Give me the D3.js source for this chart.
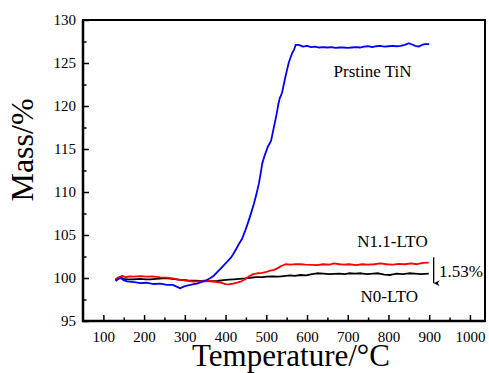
<!DOCTYPE html>
<html>
<head>
<meta charset="utf-8">
<script src="https://cdn.jsdelivr.net/npm/d3@7"></script>
<style>
html,body{margin:0;padding:0;background:#fff;}
svg{display:block;}
svg text{font-family:"Liberation Serif","Times New Roman",serif !important;}
</style>
</head>
<body>
<svg id="chart" width="489" height="373"></svg>
<script>
// ---- data ----
const xTicks = [100,200,300,400,500,600,700,800,900,1000];
const yTicks = [95,100,105,110,115,120,125,130];

const tinTemp = [130,136,142,150,158,170,180,191,205,224,240,256,270,280,289,297,305,314,322,330,338,346,355,363,372,380,388,396,404,412,418,424,432,441,449,457,463,470,476,482,486,490,495,501,504,508,512,515,519,523,527,530,533,536,539,543,547,551,555,560,564,568,572,580,590,600,610,620,630,640,650,660,670,680,690,700,710,720,730,740,750,760,770,780,790,800,810,820,830,840,850,858,866,874,882,890,900];
const tinMass = [99.65,99.85,100.0,99.75,99.6,99.55,99.5,99.4,99.45,99.3,99.35,99.2,99.2,99.0,98.8,99.0,99.1,99.2,99.3,99.35,99.5,99.6,99.8,100.0,100.3,100.7,101.1,101.5,101.9,102.3,102.7,103.2,103.9,104.6,105.6,106.7,107.6,108.7,109.8,111.0,112.1,113.3,114.1,114.9,115.3,115.6,116.0,116.7,117.6,118.5,119.5,120.3,120.9,121.2,121.6,122.5,123.4,124.2,125.0,125.7,126.2,126.5,127.1,127.1,126.9,127.0,126.85,126.9,126.8,126.85,126.8,126.85,126.75,126.8,126.8,126.75,126.8,126.85,126.8,126.9,126.95,126.85,126.95,127.0,126.9,126.95,127.0,126.95,127.0,127.1,127.3,127.15,127.0,126.9,127.1,127.2,127.2];

const n11Temp = [130,136,142,146,155,165,175,191,205,220,240,255,270,281,295,310,322,335,350,363,375,388,400,408,418,428,437,448,458,468,478,490,500,510,519,528,537,547,560,572,584,596,610,625,640,655,666,680,690,703,720,735,750,765,780,795,810,825,840,855,870,885,899];
const n11Mass = [99.85,100.05,100.15,100.25,100.1,100.2,100.15,100.23,100.15,100.2,100.08,100.05,99.95,99.85,99.75,99.65,99.57,99.6,99.62,99.65,99.55,99.45,99.3,99.25,99.35,99.45,99.57,99.85,100.2,100.45,100.55,100.6,100.7,100.85,100.95,101.15,101.4,101.6,101.55,101.62,101.6,101.55,101.52,101.5,101.6,101.55,101.7,101.6,101.55,101.6,101.5,101.6,101.55,101.6,101.7,101.6,101.55,101.65,101.6,101.7,101.6,101.75,101.78];

const n0Temp = [130,136,142,150,160,174,190,205,215,230,245,256,270,285,297,310,325,338,352,365,380,395,408,420,435,448,461,475,490,502,515,530,543,558,570,584,598,612,625,640,655,666,680,692,703,718,732,748,762,775,790,805,820,835,850,865,880,899];
const n0Mass = [99.77,99.95,100.08,99.9,99.85,99.85,99.9,99.85,99.85,99.9,99.95,99.97,99.9,99.8,99.77,99.7,99.68,99.65,99.7,99.62,99.65,99.75,99.8,99.85,99.9,99.95,100.03,100.1,100.1,100.15,100.2,100.15,100.23,100.3,100.25,100.35,100.3,100.45,100.55,100.5,100.45,100.47,100.5,100.45,100.55,100.5,100.55,100.45,100.5,100.55,100.4,100.35,100.5,100.45,100.55,100.5,100.45,100.5];

const labels = ["Prstine TiN","N1.1-LTO","N0-LTO","1.53%"];
const labelT = [761, 810, 802, 924];
const labelM = [123.4, 103.6, 97.2, 100.1];
const arrowT = [911, 911];
const arrowM = [102.4, 99.4];

// ---- layout ----
const L = 83, R = 485, T = 20, B = 321;
const FONT = "Liberation Serif, Times New Roman, serif";
const svg = d3.select("#chart");
const x = d3.scaleLinear().domain([50, 1037]).range([L, R]);
const y = d3.scaleLinear().domain([95, 130]).range([B, T]);

svg.append("defs").append("marker")
  .attr("id","arr").attr("viewBox","0 0 10 10").attr("refX",5).attr("refY",10)
  .attr("markerWidth",6).attr("markerHeight",9).attr("orient","auto-start-reverse")
  .attr("markerUnits","userSpaceOnUse")
  .append("path").attr("d","M0,0 L5,10 L10,0 L5,3 Z").attr("fill","#000");

// minor ticks
const xMinor = d3.range(150, 1001, 100);
const yMinor = d3.range(97.5, 130, 5);
svg.append("g").attr("transform",`translate(0,${B})`)
  .call(d3.axisBottom(x).tickValues(xMinor).tickSize(-3.5).tickFormat(""))
  .call(g=>g.select(".domain").remove())
  .call(g=>g.selectAll("text").remove())
  .selectAll("line").attr("stroke","#000").attr("stroke-width",1.5);
svg.append("g").attr("transform",`translate(${L},0)`)
  .call(d3.axisLeft(y).tickValues(yMinor).tickSize(-3.5).tickFormat(""))
  .call(g=>g.select(".domain").remove())
  .call(g=>g.selectAll("text").remove())
  .selectAll("line").attr("stroke","#000").attr("stroke-width",1.5);

// major axes
const gx = svg.append("g").attr("transform",`translate(0,${B})`)
  .call(d3.axisBottom(x).tickValues(xTicks).tickSize(-6).tickPadding(10).tickFormat(d3.format("d")));
gx.attr("font-family", FONT).attr("font-size", 15);
gx.select(".domain").remove();
gx.selectAll("line").attr("stroke","#000").attr("stroke-width",1.5);
gx.selectAll("text").attr("fill","#000").style("font-family", FONT).style("font-size","15px");

const gy = svg.append("g").attr("transform",`translate(${L},0)`)
  .call(d3.axisLeft(y).tickValues(yTicks).tickSize(-6).tickPadding(7).tickFormat(d3.format("d")));
gy.attr("font-family", FONT).attr("font-size", 15);
gy.select(".domain").remove();
gy.selectAll("line").attr("stroke","#000").attr("stroke-width",1.5);
gy.selectAll("text").attr("fill","#000").style("font-family", FONT).style("font-size","15px");

// curves
const line = d3.line().x(d=>x(d[0])).y(d=>y(d[1]));
const series = [
  {t:n0Temp, m:n0Mass, c:"#000000"},
  {t:n11Temp, m:n11Mass, c:"#ff0000"},
  {t:tinTemp, m:tinMass, c:"#0000ff"}
];
series.forEach(s=>{
  svg.append("path").datum(d3.zip(s.t, s.m))
    .attr("d", line).attr("fill","none").attr("stroke", s.c)
    .attr("stroke-width",1.8).attr("stroke-linejoin","round");
});

// frame
svg.append("path")
  .attr("d",`M${L},${T}H${R}V${B}H${L}Z`)
  .attr("fill","none").attr("stroke","#000").attr("stroke-width",2);
svg.append("path")
  .attr("d",`M${L},${T}V${B}H${R}`)
  .attr("fill","none").attr("stroke","#000").attr("stroke-width",2.5);

// annotations
labels.forEach((s,i)=>{
  svg.append("text").attr("x", x(labelT[i])).attr("y", y(labelM[i]))
    .attr("text-anchor", i===3 ? "start" : "middle")
    .style("font-size","17px").attr("fill","#000").text(s);
});
svg.append("line")
  .attr("x1", x(arrowT[0])).attr("y1", y(arrowM[0]))
  .attr("x2", x(arrowT[1])).attr("y2", y(arrowM[1]))
  .attr("stroke","#000").attr("stroke-width",1.3).attr("marker-end","url(#arr)");

// axis titles
svg.append("text").attr("x", 291).attr("y", 366).attr("text-anchor","middle")
  .style("font-size","31px").attr("fill","#000").text("Temperature/°C");
svg.append("text").attr("transform","translate(33,150) rotate(-90)")
  .attr("text-anchor","middle").style("font-size","32px").attr("fill","#000").text("Mass/%");
</script>
</body>
</html>
